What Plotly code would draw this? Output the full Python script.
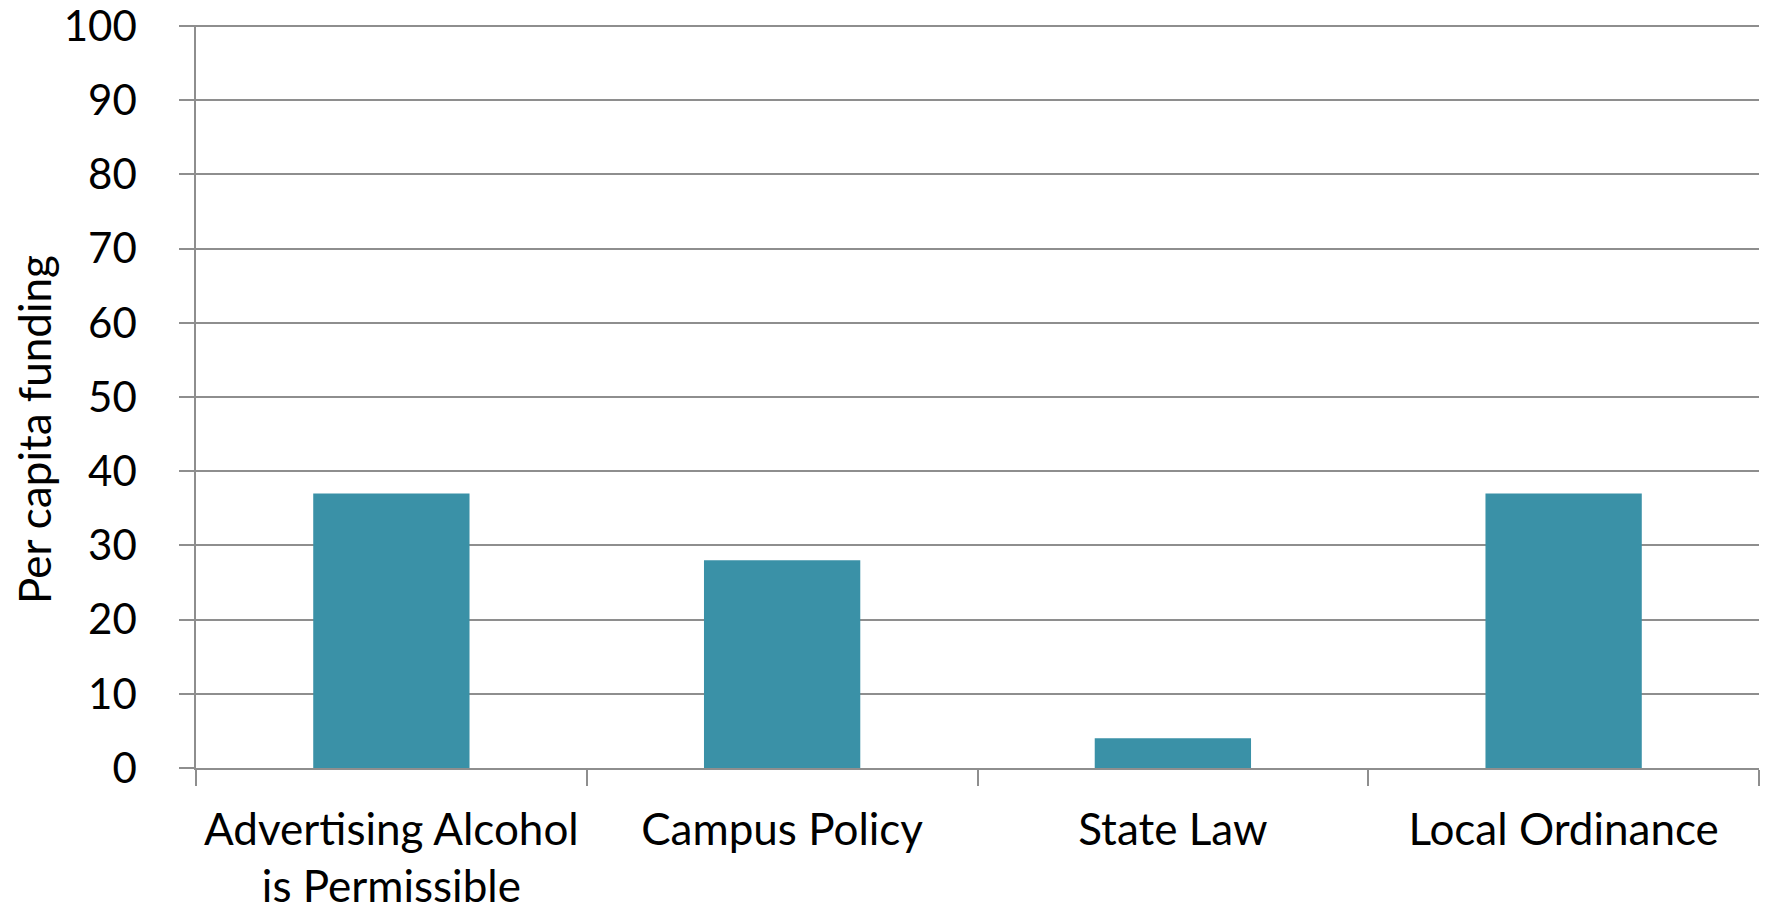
import plotly.graph_objects as go

categories = ["Advertising Alcohol<br>is Permissible", "Campus Policy", "State Law", "Local Ordinance"]
values = [37, 28, 4, 37]
y_ticks = [0, 10, 20, 30, 40, 50, 60, 70, 80, 90, 100]

grid_color = "#8e8e8e"
font_family = "Lato, 'Open Sans', sans-serif"

W, H = 1768, 910
L, R, T, B = 196, 9, 25, 142

fig = go.Figure(
    go.Bar(x=categories, y=values, marker=dict(color="#3a91a7", line=dict(width=0)))
)

fig.update_layout(
    width=W, height=H,
    margin=dict(l=L, r=R, t=T, b=B, autoexpand=False),
    paper_bgcolor="white", plot_bgcolor="white",
    bargap=0.6,
    showlegend=False,
    font=dict(family=font_family, color="black", size=38),
)

fig.update_xaxes(
    automargin=False,
    showline=True, linecolor=grid_color, linewidth=1.5,
    ticks="outside", tickson="boundaries", ticklen=16, tickcolor=grid_color, tickwidth=1.5,
    showgrid=False, tickfont=dict(size=44, family=font_family),
    ticklabelstandoff=22,
)
fig.update_yaxes(
    automargin=False,
    range=[0, 100.15], tickvals=y_ticks,
    showline=True, linecolor=grid_color, linewidth=1.5,
    ticks="outside", ticklen=15, tickcolor=grid_color, tickwidth=1.5,
    showgrid=True, gridcolor=grid_color, gridwidth=1.5, zeroline=False,
    tickfont=dict(size=42, family=font_family),
    ticklabelstandoff=34, ticklabeloverflow="allow",
)

plot_w = W - L - R
plot_h = H - T - B
fig.add_annotation(
    text="Per capita funding", textangle=-90,
    xref="paper", yref="paper",
    x=(34 - L) / plot_w, y=(H - B - 430) / plot_h,
    xanchor="center", yanchor="middle", showarrow=False,
    font=dict(size=44, family=font_family, color="black"),
)

fig.write_html(
    "out.html",
    config={"displayModeBar": False},
    post_script="document.body.style.margin='0';document.body.style.overflow='hidden';",
)
